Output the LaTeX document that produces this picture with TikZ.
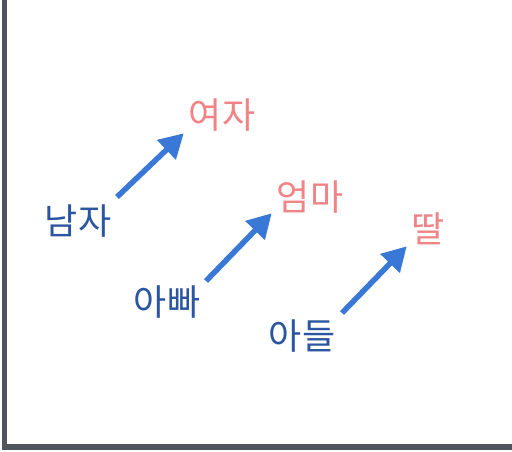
\documentclass[tikz,border=0pt]{standalone}
\usepackage{fontspec}
\newfontfamily\kr{Noto Sans CJK KR}
\usetikzlibrary{arrows.meta}
\definecolor{axisgray}{HTML}{50545C}
\definecolor{arrowblue}{HTML}{3A78D8}
\definecolor{darkblue}{HTML}{2B55A0}
\definecolor{pinkred}{HTML}{F08385}
\tikzset{
  srcword/.style={font=\kr\fontsize{36}{40}\selectfont, text=darkblue, inner sep=0pt},
  dstword/.style={font=\kr\fontsize{36}{40}\selectfont, text=pinkred, inner sep=0pt},
  relarrow/.style={draw=arrowblue, line width=5.5pt, -{Triangle[length=24pt,width=26pt]}, shorten >=-1pt},
  axisline/.style={draw=axisgray, line width=5.5pt}
}
\begin{document}
\begin{tikzpicture}[x=1pt,y=-1pt]
\useasboundingbox (0,0) rectangle (512,452);
\fill[white] (0,0) rectangle (512,452);
\coordinate (top) at (4.5,0);
\coordinate (corner) at (4.5,447);
\coordinate (right) at (512,447);
\draw[axisline] (top) -- (corner) -- (right);
\node[srcword] (namja) at (78,221) {남자};
\node[dstword] (yeoja) at (222,115) {여자};
\node[srcword] (appa) at (167,302) {아빠};
\node[dstword] (eomma) at (310,197) {엄마};
\node[srcword] (adeul) at (302,336) {아들};
\node[dstword] (ttal) at (428,229) {딸};
\coordinate (t1) at (117,197); \coordinate (h1) at (183,134);
\coordinate (t2) at (206,281); \coordinate (h2) at (271,214);
\coordinate (t3) at (342,313); \coordinate (h3) at (406,247);
\draw[relarrow] (t1) -- (h1);
\draw[relarrow] (t2) -- (h2);
\draw[relarrow] (t3) -- (h3);
\end{tikzpicture}
\end{document}
